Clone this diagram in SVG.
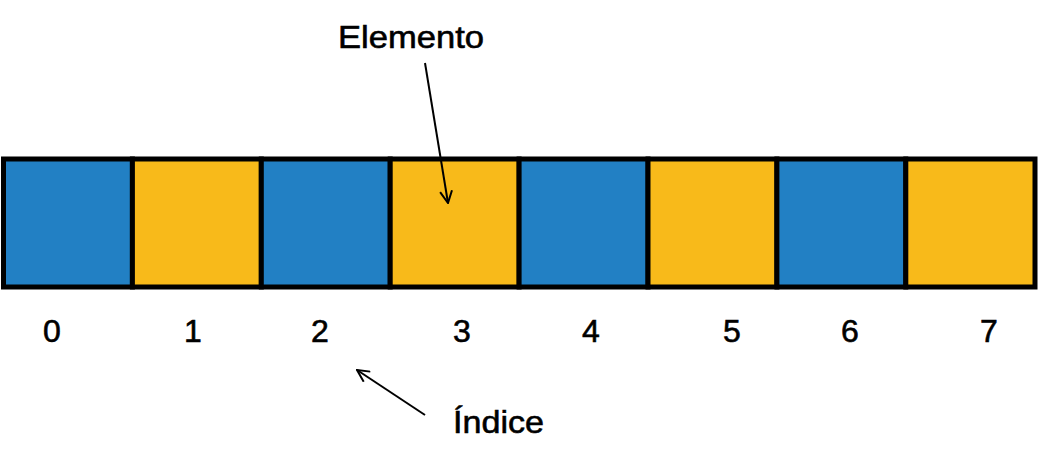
<svg xmlns="http://www.w3.org/2000/svg" width="1039" height="454" viewBox="0 0 1039 454">
<style>
.b{fill:#2280C4}
.y{fill:#F8BA1A}
.cell{stroke:#000;stroke-width:5}
.t{font-family:"Liberation Sans",Arial,sans-serif;font-size:32px;fill:#000;stroke:#000;stroke-width:0.6}
.n{text-anchor:middle}
.a{stroke:#000;stroke-width:2;fill:none}
</style>
<defs>
<marker id="arr" viewBox="0 0 14 14" refX="13" refY="7" markerWidth="14" markerHeight="14" markerUnits="userSpaceOnUse" orient="auto">
<path d="M1,1 L13,7 L1,13" fill="none" stroke="#000" stroke-width="2"/>
</marker>
</defs>
<rect width="1039" height="454" fill="#fff"/>
<g id="cells">
<g id="cell0"><rect class="cell b" x="3.5" y="159" width="128.9" height="128"/></g>
<g id="cell1"><rect class="cell y" x="132.4" y="159" width="128.9" height="128"/></g>
<g id="cell2"><rect class="cell b" x="261.3" y="159" width="128.9" height="128"/></g>
<g id="cell3"><rect class="cell y" x="390.2" y="159" width="128.9" height="128"/></g>
<g id="cell4"><rect class="cell b" x="519.1" y="159" width="128.9" height="128"/></g>
<g id="cell5"><rect class="cell y" x="648" y="159" width="128.9" height="128"/></g>
<g id="cell6"><rect class="cell b" x="776.9" y="159" width="128.9" height="128"/></g>
<g id="cell7"><rect class="cell y" x="905.8" y="159" width="129.2" height="128"/></g>
</g>
<g id="indices">
<text class="t n" x="52" y="342">0</text>
<text class="t n" x="193" y="342">1</text>
<text class="t n" x="320" y="342">2</text>
<text class="t n" x="462" y="342">3</text>
<text class="t n" x="591" y="342">4</text>
<text class="t n" x="732" y="342">5</text>
<text class="t n" x="850" y="342">6</text>
<text class="t n" x="989" y="342">7</text>
</g>
<g id="label-elemento"><text class="t" x="338" y="48" textLength="146" lengthAdjust="spacingAndGlyphs">Elemento</text></g>
<g id="label-indice"><text class="t" x="453" y="433" textLength="91" lengthAdjust="spacingAndGlyphs">Índice</text></g>
<g id="connectors">
<line class="a" x1="425" y1="63" x2="448" y2="203" marker-end="url(#arr)"/>
<line class="a" x1="425" y1="415" x2="357" y2="370" marker-end="url(#arr)"/>
</g>
</svg>
